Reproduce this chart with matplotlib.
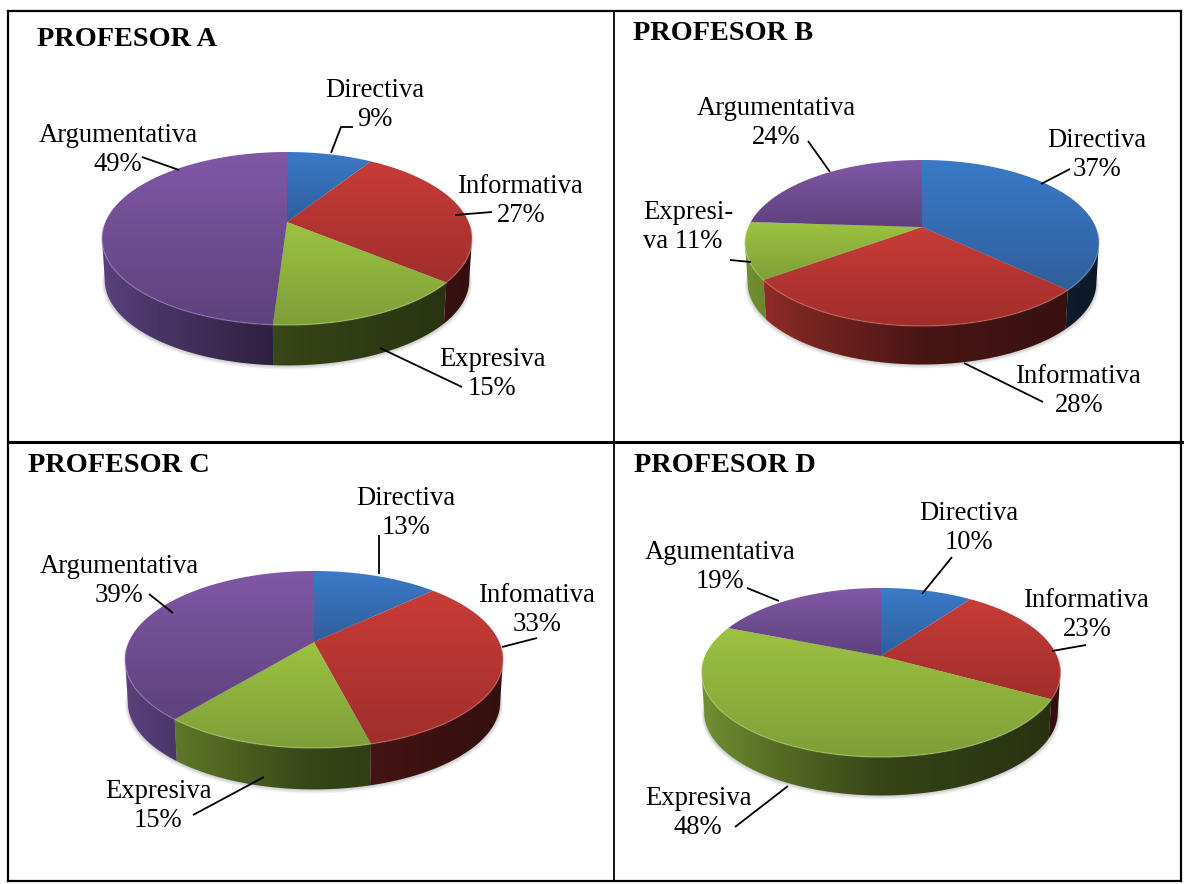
import matplotlib
matplotlib.use("Agg")
import matplotlib.pyplot as plt
import numpy as np
from matplotlib.patches import Polygon

plt.rcParams['font.family'] = ['Liberation Serif', 'DejaVu Serif']

# porcentajes por profesor, mismo orden que series_names
series_names = ["Directiva", "Informativa", "Expresiva", "Argumentativa"]
profesor_a = [9, 27, 15, 49]
profesor_b = [37, 28, 11, 24]
profesor_c = [13, 33, 15, 39]
profesor_d = [10, 23, 48, 19]

# tonos claros y oscuros de la cara superior, color base del lateral
top_light = ["#3a7ac8", "#c83c38", "#9cc241", "#8058a6"]
top_dark = ["#2f5f9c", "#a02e2b", "#7e9f38", "#5f417e"]
wall_base = ["#2f5f9c", "#c03a36", "#8fb43c", "#70519c"]

# geometria de cada tarta en pixeles: cx, izquierda, derecha, arriba, centro, abajo, base
charts = [
    dict(title="PROFESOR A", tx=37, ty=37, shares=profesor_a,
         geo=(287, 102, 472, 152, 222, 325, 367),
         labels=[("Directiva\n9%", 375, 103), ("Informativa\n27%", 521, 199),
                 ("Expresiva\n15%", 492, 372), ("Argumentativa\n49%", 118, 148)],
         leaders=[[(331, 153), (341, 127), (353, 127)], [(455, 215), (492, 212)],
                  [(380, 348), (462, 387)], [(142, 157), (179, 170)]]),
    dict(title="PROFESOR B", tx=633, ty=31, shares=profesor_b,
         geo=(922, 745, 1099, 160, 227, 326, 366),
         labels=[("Directiva\n37%", 1097, 153), ("Informativa\n28%", 1079, 389),
                 ("Expresi-\nva 11%", 688, 225), ("Argumentativa\n24%", 776, 121)],
         leaders=[[(1041, 184), (1070, 169)], [(964, 363), (1043, 402)],
                  [(751, 262), (730, 260)], [(830, 172), (808, 141)]]),
    dict(title="PROFESOR C", tx=28, ty=464, shares=profesor_c,
         geo=(314, 125, 503, 571, 642, 748, 791),
         labels=[("Directiva\n13%", 406, 511), ("Infomativa\n33%", 537, 608),
                 ("Expresiva\n15%", 158, 804), ("Argumentativa\n39%", 119, 579)],
         leaders=[[(379, 574), (379, 535)], [(502, 647), (537, 638)],
                  [(264, 777), (193, 815)], [(173, 613), (149, 594)]]),
    dict(title="PROFESOR D", tx=634, ty=464, shares=profesor_d,
         geo=(881, 702, 1061, 588, 656, 757, 797),
         labels=[("Directiva\n10%", 969, 526), ("Informativa\n23%", 1087, 613),
                 ("Expresiva\n48%", 698, 811), ("Agumentativa\n19%", 720, 565)],
         leaders=[[(922, 594), (952, 557)], [(1052, 651), (1086, 645)],
                  [(788, 786), (735, 827)], [(779, 601), (747, 588)]]),
]


def hex2rgb(c):
    return np.array(matplotlib.colors.to_rgb(c))


def pie_xy(theta, geo, scale=1.0, drop=0.0):
    # circulo visto en perspectiva: theta en radianes desde arriba en sentido horario
    cx, left, right, top, apex, bottom, base = geo
    up = apex - top
    down = bottom - apex
    k = (down - up) / (down + up)
    a = up * (1 + k)
    b = (right - left) / 2 * np.sqrt(1 - k ** 2)
    den = 1 + k * np.cos(theta)
    x = cx + scale * b * np.sin(theta) / den
    y = apex - scale * a * np.cos(theta) / den + drop
    return x, y


def gradient_fill(ax, verts, rows, extent):
    poly = Polygon(verts, closed=True, transform=ax.transData, fc="none", ec="none")
    ax.add_patch(poly)
    im = ax.imshow(rows, extent=extent, aspect="auto", interpolation="bilinear", zorder=3)
    im.set_clip_path(poly)


def draw_pie(ax, chart):
    geo = chart["geo"]
    cx, left, right, top, apex, bottom, base = geo
    depth = base - bottom
    k = ((bottom - apex) - (apex - top)) / (bottom - top)
    front_from = np.arccos(-k)
    front_to = 2 * np.pi - front_from

    # sombra difusa bajo la base
    ring = np.linspace(0, 2 * np.pi, 240)
    for i in range(6):
        sx, sy = pie_xy(ring, geo, scale=0.985 + i * 0.003, drop=depth + i * 0.5)
        ax.fill(sx, sy, color="black", alpha=0.04, lw=0, zorder=1)

    edges = np.cumsum([0] + chart["shares"]) / 100 * 2 * np.pi
    ramp_x = np.linspace(0, 1, 200)
    wall_shade = np.interp(ramp_x, [0, 0.15, 0.5, 1], [0.8, 0.65, 0.38, 0.27])

    # laterales visibles, solo la parte frontal de cada porcion
    for i in range(len(chart["shares"])):
        t0 = max(edges[i], front_from)
        t1 = min(edges[i + 1], front_to)
        if t1 <= t0:
            continue
        t = np.linspace(t0, t1, 120)
        ux, uy = pie_xy(t, geo)
        lx, ly = pie_xy(t, geo, scale=0.985, drop=depth)
        verts = np.r_[np.c_[ux, uy], np.c_[lx, ly][::-1]]
        rows = (wall_shade[:, None] * hex2rgb(wall_base[i]))[None, :, :]
        gradient_fill(ax, verts, rows, (left, right, base + 2, top))

    # cara superior con degradado vertical y borde claro delante
    for i in range(len(chart["shares"])):
        t = np.linspace(edges[i], edges[i + 1], 160)
        ax_x, ax_y = pie_xy(t, geo)
        verts = np.r_[[(cx, apex)], np.c_[ax_x, ax_y]]
        y0, y1 = verts[:, 1].min(), verts[:, 1].max()
        mix = np.linspace(0, 1, 100)[:, None]
        rows = ((1 - mix) * hex2rgb(top_light[i]) + mix * hex2rgb(top_dark[i]))[:, None, :]
        poly = Polygon(verts, closed=True, transform=ax.transData, fc="none", ec="none")
        ax.add_patch(poly)
        im = ax.imshow(rows, extent=(verts[:, 0].min(), verts[:, 0].max(), y1, y0),
                       aspect="auto", interpolation="bilinear", zorder=4)
        im.set_clip_path(poly)
        keep = np.cos(t) < -0.05
        if keep.any():
            rim = hex2rgb(top_light[i]) * 0.7 + 0.3
            ax.plot(ax_x[keep], ax_y[keep], color=rim, lw=1.0, alpha=0.5, zorder=5,
                    solid_capstyle="butt")

    ax.text(chart["tx"], chart["ty"] + 2, chart["title"], fontsize=20.4, fontweight="bold",
            ha="left", va="center", color="black", zorder=8)
    for text, x, y in chart["labels"]:
        align = "left" if text.startswith("Expresi-") else "center"
        ax.text(x if align == "center" else 643, y + 2, text, fontsize=19.2, ha=align, va="center",
                multialignment=align, linespacing=1.24, color="black", zorder=8)
    for pts in chart["leaders"]:
        px, py = zip(*pts)
        ax.plot(px, py, color="black", lw=1.3, zorder=7, solid_capstyle="butt")


fig = plt.figure(figsize=(11.84, 8.84), dpi=100, facecolor="white")
ax = fig.add_axes([0, 0, 1, 1])

for chart in charts:
    draw_pie(ax, chart)

# lineas de la tabla
line = dict(color="black", lw=1.6, zorder=9, solid_capstyle="projecting")
ax.plot([8, 1181], [10.5, 10.5], **line)
ax.plot([8, 1184], [442, 442], color="black", lw=2.2, zorder=9, solid_capstyle="butt")
ax.plot([8, 1181], [881, 881], **line)
ax.plot([8, 8], [11, 881], **line)
ax.plot([614, 614], [11, 881], color="black", lw=1.3, zorder=9, solid_capstyle="butt")
ax.plot([1181, 1181], [11, 881], **line)

ax.set_xlim(0, 1184)
ax.set_ylim(884, 0)
ax.axis("off")

plt.savefig("out.png", dpi=100)
